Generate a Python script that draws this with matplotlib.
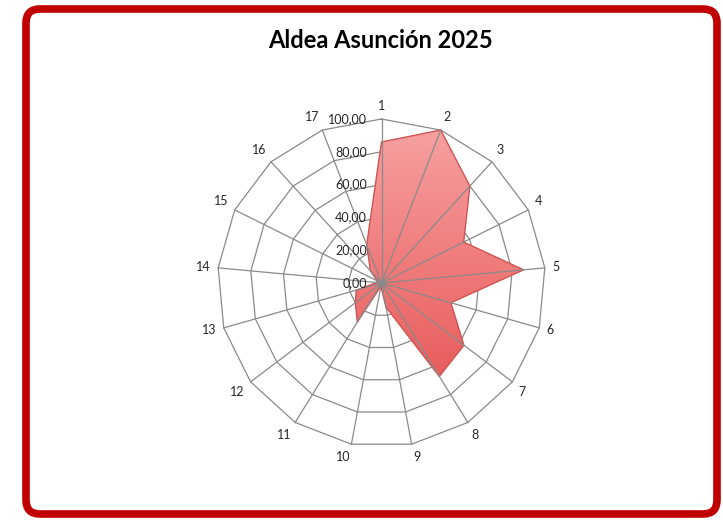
import numpy as np
import matplotlib.pyplot as plt
from matplotlib.patches import FancyBboxPatch, Polygon
from matplotlib.colors import LinearSegmentedColormap

# radar data
categories = [str(i) for i in range(1, 18)]
values = [86, 100, 80, 56, 87, 44, 63, 67, 15, 2, 28, 20, 16, 3, 3, 10, 25]
ring_levels = [20, 40, 60, 80, 100]
tick_levels = [0, 20, 40, 60, 80, 100]
tick_labels = ['0,00', '20,00', '40,00', '60,00', '80,00', '100,00']
title = 'Aldea Asunción 2025'

W, H = 723, 520
fig = plt.figure(figsize=(W / 100, H / 100), dpi=100)

# background frame with red rounded border (pixel coords)
bg = fig.add_axes([0, 0, 1, 1])
bg.set_xlim(0, W)
bg.set_ylim(0, H)
bg.axis('off')
bg.add_patch(FancyBboxPatch((26, 6), 717 - 26, 511 - 6,
                            boxstyle='round,pad=0,rounding_size=14',
                            fc='white', ec='#C00000', lw=5.5))
bg.text(381, H - 41, title, ha='center', va='center', fontsize=17,
        fontweight='bold', family='Lato', color='#000000')

# radar axes, equal scale, center at (381.5, 283) px, 100 units = 164 px
cx, cy, size = 381.5, H - 283, 400
lim = size / 164 * 100 / 2
ax = fig.add_axes([(cx - size / 2) / W, (cy - size / 2) / H, size / W, size / H])
ax.set_xlim(-lim, lim)
ax.set_ylim(-lim, lim)
ax.axis('off')

n = len(categories)
theta = np.arange(n) * 2 * np.pi / n
sx, cyy = np.sin(theta), np.cos(theta)

grid_color = '#8A8A8A'
for lv in ring_levels:
    xs = np.append(lv * sx, lv * sx[0])
    ys = np.append(lv * cyy, lv * cyy[0])
    ax.plot(xs, ys, color=grid_color, lw=0.9, zorder=1)

# filled series with vertical gradient
v = np.array(values, dtype=float)
poly = Polygon(np.column_stack([v * sx, v * cyy]), closed=True,
               fc='none', ec='#CF5454', lw=1.0, zorder=2.5)
ax.add_patch(poly)
cmap = LinearSegmentedColormap.from_list('redfill', ['#E34A4A', '#EF7676', '#F7A3A3'])
grad = np.linspace(0, 1, 256).reshape(-1, 1)
im = ax.imshow(grad, extent=[-100, 100, -100, 100], origin='lower', cmap=cmap,
               aspect='auto', zorder=2)
im.set_clip_path(poly)

# spokes on top of the fill
for s, c in zip(sx, cyy):
    ax.plot([0, 100 * s], [0, 100 * c], color=grid_color, lw=0.9, zorder=3)
ax.plot(0, 0, 'o', color='#8A8A8A', ms=4, zorder=3.5)

# value labels along the first spoke
for lv, lab in zip(tick_levels, tick_labels):
    ax.text(-9, lv, lab, ha='right', va='center', fontsize=9, family='Lato',
            color='#262626', zorder=4)

# category labels
off = 4.5
for lab, s, c in zip(categories, sx, cyy):
    ha = 'left' if s > 0.15 else ('right' if s < -0.15 else 'center')
    va = 'bottom' if c > 0.3 else ('top' if c < -0.3 else 'center')
    ax.text((100 + off) * s, (100 + off) * c, lab, ha=ha, va=va, fontsize=9,
            family='Lato', color='#262626')

fig.savefig('out.png', dpi=100)
